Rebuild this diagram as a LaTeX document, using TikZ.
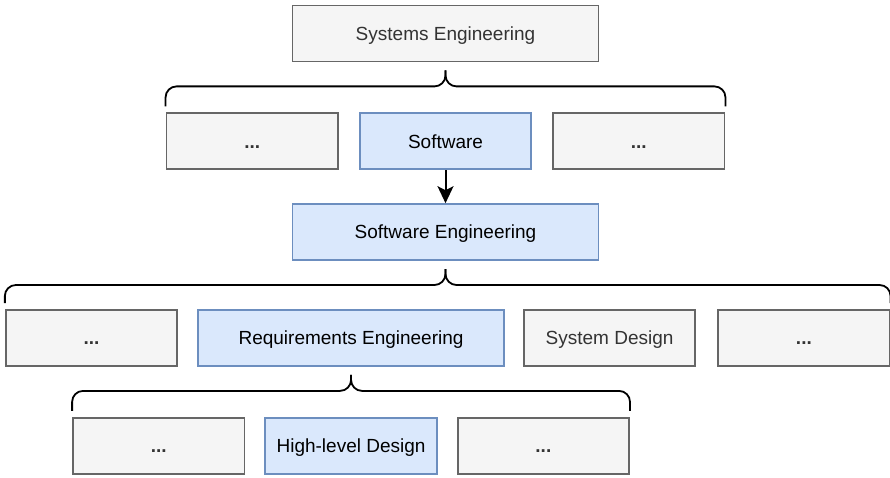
\documentclass[tikz,border=0pt]{standalone}
\usepackage{fontspec}
\setmainfont{Liberation Sans}
\usetikzlibrary{positioning,calc,arrows.meta}

\definecolor{boxgray}{HTML}{F5F5F5}
\definecolor{linegray}{HTML}{666666}
\definecolor{textgray}{HTML}{333333}
\definecolor{boxblue}{HTML}{DAE8FC}
\definecolor{lineblue}{HTML}{6C8EBF}

\tikzstyle{unit} = [rectangle,draw=linegray,fill=boxgray,text=textgray,line width=1.8pt,minimum height=56pt,inner sep=0pt,text height=13.7pt,text depth=0pt,font=\fontsize{19}{23}\selectfont]
\tikzstyle{wide} = [unit,minimum width=306pt]
\tikzstyle{narrow} = [unit,minimum width=171.5pt]
\tikzstyle{focus} = [draw=lineblue,fill=boxblue,text=black]
\tikzstyle{brace} = [line width=1.8pt,rounded corners=11pt]
\tikzstyle{arrow} = [line width=2pt,-{Stealth[length=17pt,width=16pt,inset=4pt]}]

% curly bracket from a parent box over a row of child boxes
\newcommand{\hbrace}[3]{%
  \draw[brace] ($(#2.north west)+(0,-6)$) |- ($(#1.south)+(0,24)$) -- ($(#1.south)+(0,8)$);
  \draw[brace] ($(#3.north east)+(0,-6)$) |- ($(#1.south)+(0,24)$) -- ($(#1.south)+(0,8)$);
}

\begin{document}
\begin{tikzpicture}[x=1pt,y=-1pt]
   \useasboundingbox (0,0) rectangle (890,478);
   % top level
   \node[wide] (syseng) at (445.5,33.5) {Systems Engineering};
   \node[narrow,focus,below=50pt of syseng] (software) {Software};
   \node[narrow,left=20pt of software] (sysother1) {\textbf{...}};
   \node[narrow,right=20pt of software] (sysother2) {\textbf{...}};
   % software engineering
   \node[wide,focus,below=33pt of software] (sweng) {Software Engineering};
   \node[narrow] (swother1) at (91.5,338) {\textbf{...}};
   \node[wide,focus,right=19pt of swother1] (reqeng) {Requirements Engineering};
   \node[narrow,right=18pt of reqeng] (sysdesign) {System Design};
   \node[narrow,right=21pt of sysdesign] (swother2) {\textbf{...}};
   % requirements engineering
   \node[narrow,focus,below=50pt of reqeng] (hldesign) {High-level Design};
   \node[narrow,left=19pt of hldesign] (hlother1) {\textbf{...}};
   \node[narrow,right=19pt of hldesign] (hlother2) {\textbf{...}};

   \hbrace{syseng}{sysother1}{sysother2}
   \hbrace{sweng}{swother1}{swother2}
   \hbrace{reqeng}{hlother1}{hlother2}

   \draw[arrow] (software) -- (sweng);
\end{tikzpicture}
\end{document}
